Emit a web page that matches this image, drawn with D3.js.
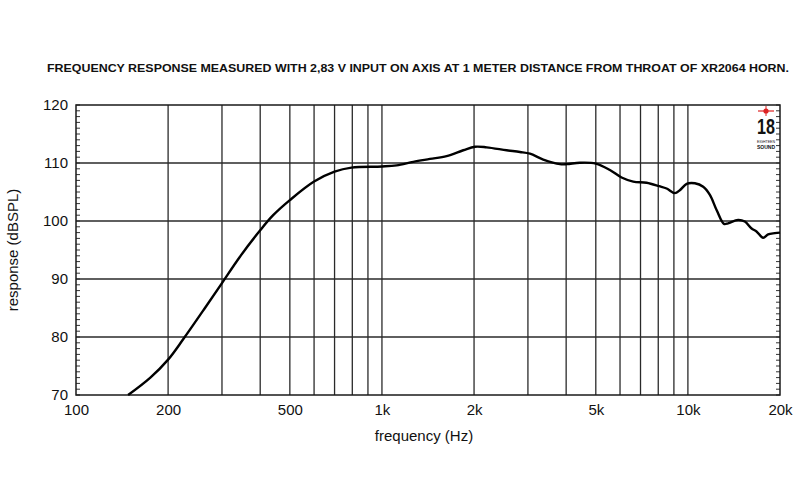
<!DOCTYPE html>
<html><head><meta charset="utf-8">
<script src="https://cdn.jsdelivr.net/npm/d3@7"></script>
<style>
body{margin:0;background:#fff;}
text{font-family:"Liberation Sans",Arial,Helvetica,sans-serif;fill:#111;}
</style></head>
<body><svg id="c" width="800" height="500"></svg>
<script>
const title = "FREQUENCY RESPONSE MEASURED WITH 2,83 V INPUT ON AXIS AT 1 METER DISTANCE FROM THROAT OF XR2064 HORN.";
const xLabel = "frequency (Hz)";
const yLabel = "response (dBSPL)";
const freqs = [148,175,200,224,260,300,343,400,441,500,600,700,795,1000,1117,1266,1435,1627,1844,2014,2199,2556,2825,3046,3367,3818,4020,4437,5003,5560,6070,6626,7330,8058,8520,9070,9410,9905,10540,11220,11800,12410,13120,13530,14590,15350,16150,16760,17620,18290,19240,20000];
const spl = [70.0,73.0,76.1,79.6,84.5,89.3,93.8,98.4,101.0,103.6,106.8,108.5,109.2,109.4,109.6,110.2,110.7,111.2,112.2,112.8,112.7,112.2,111.9,111.6,110.6,109.8,109.8,110.05,109.9,108.8,107.5,106.8,106.6,106.0,105.6,104.8,105.3,106.4,106.5,105.9,104.5,101.9,99.5,99.6,100.2,99.9,98.7,98.2,97.1,97.7,97.9,98.0];
const xTickVals = [100,200,500,1000,2000,5000,10000,20000];
const xTickLabels = ["100","200","500","1k","2k","5k","10k","20k"];
const xGrid = [200,300,400,500,600,700,800,900,1000,2000,3000,4000,5000,6000,7000,8000,9000,10000];
const yTickVals = [70,80,90,100,110,120];
const yGrid = [80,90,100,110];

const svg = d3.select("#c");
const L=76,R=780,T=105,B=395;
const x = d3.scaleLog().domain([100,20000]).range([L,R]);
const y = d3.scaleLinear().domain([70,120]).range([B,T]);

// title
svg.append("text").attr("x",418).attr("y",72).attr("text-anchor","middle")
  .attr("textLength",742).attr("lengthAdjust","spacingAndGlyphs")
  .style("font-family","'Liberation Sans Narrow','Liberation Sans',Arial,sans-serif")
  .style("font-weight","bold").style("font-size","11.5px").text(title);

const g = svg.append("g");
// grid
g.selectAll(".vg").data(xGrid).join("line")
  .attr("x1",d=>x(d)).attr("x2",d=>x(d)).attr("y1",T).attr("y2",B)
  .attr("stroke","#2a2a2a").attr("stroke-width",1.3);
g.selectAll(".hg").data(yGrid).join("line")
  .attr("x1",L).attr("x2",R).attr("y1",d=>y(d)).attr("y2",d=>y(d))
  .attr("stroke","#2a2a2a").attr("stroke-width",1.3);

// minor ticks left and right (1 dB)
const minor = d3.range(70,121,1);
g.selectAll(".ml").data(minor).join("line")
  .attr("x1",L).attr("x2",L+4).attr("y1",d=>y(d)).attr("y2",d=>y(d))
  .attr("stroke","#333").attr("stroke-width",1);
g.selectAll(".mr").data(minor).join("line")
  .attr("x1",R).attr("x2",R-4).attr("y1",d=>y(d)).attr("y2",d=>y(d))
  .attr("stroke","#333").attr("stroke-width",1);

// frame
g.append("rect").attr("x",L).attr("y",T).attr("width",R-L).attr("height",B-T)
  .attr("fill","none").attr("stroke","#1a1a1a").attr("stroke-width",1.5);

// axes via d3
const xAxis = d3.axisBottom(x).tickValues(xTickVals).tickSize(0).tickPadding(9)
  .tickFormat((d,i)=>xTickLabels[i]);
const xa = svg.append("g").attr("transform",`translate(0,${B})`).call(xAxis);
xa.select(".domain").remove();
xa.selectAll("text").style("font-size","15px").style("font-family","'Liberation Sans',Arial,sans-serif").attr("fill","#111");

const yAxis = d3.axisLeft(y).tickValues(yTickVals).tickSize(0).tickPadding(8);
const ya = svg.append("g").attr("transform",`translate(${L},0)`).call(yAxis);
ya.select(".domain").remove();
ya.selectAll("text").style("font-size","15px").style("font-family","'Liberation Sans',Arial,sans-serif").attr("fill","#111");

// axis titles
svg.append("text").attr("x",424).attr("y",441).attr("text-anchor","middle")
  .style("font-size","15px").text(xLabel);
svg.append("text").attr("transform","translate(18,250) rotate(-90)").attr("text-anchor","middle")
  .style("font-size","15px").text(yLabel);

// curve
const pts = freqs.map((f,i)=>[f,spl[i]]);
const line = d3.line().x(d=>x(d[0])).y(d=>y(d[1])).curve(d3.curveCatmullRom.alpha(0.5));
svg.append("path").datum(pts).attr("d",line).attr("fill","none")
  .attr("stroke","#000").attr("stroke-width",2.4).attr("stroke-linejoin","round");

// logo
const lg = svg.append("g").attr("transform","translate(766,0)");
lg.append("line").attr("x1",-8).attr("x2",8).attr("y1",111).attr("y2",111).attr("stroke","#d22").attr("stroke-width",1.2);
lg.append("line").attr("x1",0).attr("x2",0).attr("y1",106).attr("y2",116).attr("stroke","#d22").attr("stroke-width",1);
lg.append("circle").attr("cx",0).attr("cy",111).attr("r",2.6).attr("fill","#d22");
lg.append("text").attr("x",0).attr("y",134).attr("text-anchor","middle")
  .attr("transform","translate(0,134) scale(0.85,1.15) translate(0,-134)")
  .style("font-size","19px").style("font-weight","bold")
  .style("font-family","'Liberation Sans Narrow','Liberation Sans',Arial,sans-serif").text("18");
lg.append("text").attr("x",0).attr("y",143).attr("text-anchor","middle")
  .style("font-size","3.5px").attr("fill","#666").text("EIGHTEEN");
lg.append("text").attr("x",0).attr("y",148.5).attr("text-anchor","middle")
  .style("font-size","5px").style("font-weight","bold").text("SOUND");
</script></body></html>
